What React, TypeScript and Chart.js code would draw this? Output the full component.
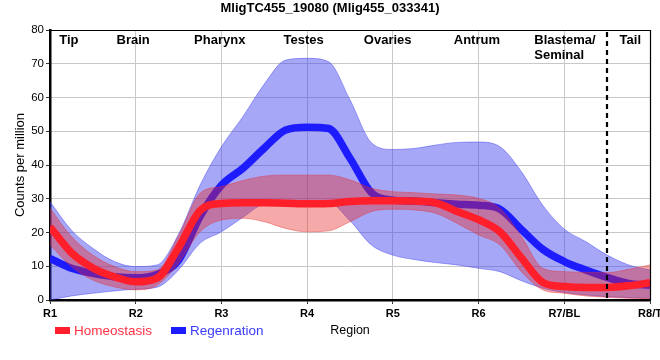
import React, { useEffect, useRef } from "react";
import { Chart, registerables } from "chart.js";
Chart.register(...registerables);

const chartTitle = "MligTC455_19080 (Mlig455_033341)";
const tickLabels = ["R1", "R2", "R3", "R4", "R5", "R6", "R7/BL", "R8/T"];
const regionNames = ["Tip", "Brain", "Pharynx", "Testes", "Ovaries", "Antrum", "Blastema/\nSeminal", "Tail"];
const regionAt = [1.22, 1.97, 2.98, 3.96, 4.94, 5.98, 6.65, 7.77];
const boundaryAt = 7.5;

const positions = [1, 1.25, 1.5, 1.75, 2, 2.25, 2.5, 2.75, 3, 3.25, 3.5, 3.75, 4, 4.25, 4.5, 4.75, 5, 5.25, 5.5, 5.75, 6, 6.25, 6.5, 6.75, 7, 7.25, 7.5, 7.75, 8];

const homeMean = [21.7, 14, 9.5, 6.9, 5.4, 6.5, 15.5, 26.5, 28.6, 28.8, 28.8, 28.7, 28.5, 28.6, 29.2, 29.4, 29.4, 29.3, 28.8, 26.2, 23.8, 20.2, 12.5, 5.2, 4, 3.7, 3.7, 4.2, 5.1];
const homeUpper = [27.2, 18.8, 13.3, 9.9, 8.4, 8.9, 19, 31.6, 33.6, 35.4, 36.7, 37, 37, 37, 35.6, 33.1, 32.1, 31.8, 31.4, 31.1, 30.1, 27.2, 18.8, 9.4, 8.4, 8.2, 8.1, 9.1, 10.4];
const homeLower = [16.3, 9.9, 5.9, 3.9, 3, 4.4, 10.9, 20.2, 23.7, 24.2, 23.2, 21.2, 20.2, 20.5, 23.2, 26.2, 26.9, 26.7, 25.7, 22.7, 19.3, 16.3, 8.4, 3, 2, 1.2, 0.8, 0.5, 0.4];

const regenMean = [12.3, 9.4, 7.9, 6.9, 6.6, 7.6, 11.8, 24.7, 34, 39, 45, 50.4, 51.2, 50.8, 42, 31.8, 29.6, 29.3, 28.8, 28.4, 28.1, 26.9, 20.9, 15, 11.4, 8.9, 6.7, 4.9, 4.4];
const regenUpper = [29.1, 20.7, 15.3, 11.4, 9.9, 10.4, 19.5, 34, 45.4, 54.3, 64, 71.1, 71.6, 70.6, 59.3, 46.6, 44.6, 44.9, 45.9, 46.7, 46.8, 45.4, 38, 28, 21, 17.3, 13.3, 10.4, 8.9];
const regenLower = [0, 1.2, 2, 2.7, 3.2, 3.8, 8.9, 16.8, 20.2, 24.5, 28.5, 29, 29.2, 29, 23.5, 16.3, 13.3, 12, 11.1, 10.4, 9.4, 8.4, 5.7, 3.5, 2.2, 1.5, 1, 0.7, 0.5];

const seriesNames = ["Homeostasis", "Regenration"];

const RED = "#ff1f2b";
const BLUE = "#1c1cff";
const FONT = '"Liberation Sans", Arial, sans-serif';

const pts = (vals: number[]) => vals.map((v, i) => ({ x: positions[i], y: v }));

export default function App() {
  const ref = useRef<HTMLCanvasElement | null>(null);
  useEffect(() => {
    document.body.style.margin = "0";
    const canvas = ref.current!;
    const overlay = {
      id: "overlay",
      afterDatasetsDraw(chart: any) {
        const { ctx, chartArea: a, scales } = chart;
        const x = scales.x;
        ctx.save();
        ctx.strokeStyle = "#000";
        ctx.lineWidth = 1.2;
        ctx.beginPath();
        ctx.moveTo(a.left, a.top + 0.5);
        ctx.lineTo(a.right + 0.5, a.top + 0.5);
        ctx.lineTo(a.right + 0.5, a.bottom);
        ctx.stroke();
        const bx = Math.round(x.getPixelForValue(boundaryAt));
        ctx.setLineDash([5, 4]);
        ctx.lineWidth = 2.2;
        ctx.beginPath();
        ctx.moveTo(bx, a.top + 2);
        ctx.lineTo(bx, a.bottom);
        ctx.stroke();
        ctx.setLineDash([]);
        ctx.font = `bold 13px ${FONT}`;
        ctx.fillStyle = "#000";
        ctx.textBaseline = "alphabetic";
        regionNames.forEach((n, i) => {
          const px = x.getPixelForValue(regionAt[i]);
          const lines = n.split("\n");
          ctx.textAlign = lines.length > 1 ? "left" : "center";
          lines.forEach((l, j) => ctx.fillText(l, px, a.top + 14 + j * 14.5));
        });
        ctx.restore();
      },
      afterDraw(chart: any) {
        const { ctx } = chart;
        ctx.save();
        ctx.font = `bold 13px ${FONT}`;
        ctx.fillStyle = "#000";
        ctx.textAlign = "center";
        ctx.textBaseline = "middle";
        ctx.fillText(chartTitle, 330, 8);
        const items = [
          { name: seriesNames[0], box: RED, text: "#ff3344", x: 55 },
          { name: seriesNames[1], box: BLUE, text: "#3a3aff", x: 171 },
        ];
        ctx.font = `13.5px ${FONT}`;
        ctx.textAlign = "left";
        items.forEach((it) => {
          ctx.fillStyle = it.box;
          ctx.fillRect(it.x, 327, 15, 7);
          ctx.fillStyle = it.text;
          ctx.fillText(it.name, it.x + 19, 331);
        });
        ctx.restore();
      },
    };

    const band = (label: string, vals: number[], color: string, fill: any, order: number) => ({
      label,
      data: pts(vals),
      borderColor: color,
      borderWidth: 1,
      backgroundColor: color,
      fill,
      pointRadius: 0,
      cubicInterpolationMode: "monotone",
      order,
    });

    const chart = new Chart(canvas, {
      type: "line",
      data: {
        datasets: [
          band("regenUpper", regenUpper, "rgba(60,60,240,0.45)", "+1", 3),
          band("regenLower", regenLower, "rgba(60,60,240,0.45)", false, 3),
          {
            label: seriesNames[1],
            data: pts(regenMean),
            borderColor: BLUE,
            borderWidth: 7.5,
            fill: false,
            pointRadius: 0,
            cubicInterpolationMode: "monotone",
            order: 2,
          },
          band("homeUpper", homeUpper, "rgba(230,40,40,0.4)", "+1", 1),
          band("homeLower", homeLower, "rgba(230,40,40,0.4)", false, 1),
          {
            label: seriesNames[0],
            data: pts(homeMean),
            borderColor: RED,
            borderWidth: 7.5,
            fill: false,
            pointRadius: 0,
            cubicInterpolationMode: "monotone",
            order: 0,
          },
        ],
      },
      options: {
        responsive: false,
        animation: false,
        layout: { padding: { left: 0, right: 10, top: 30, bottom: 0 } },
        plugins: { legend: { display: false }, title: { display: false }, tooltip: { enabled: false } },
        scales: {
          x: {
            type: "linear",
            min: 1,
            max: 8,
            afterBuildTicks: (s: any) => {
              s.ticks = tickLabels.map((_, i) => ({ value: i + 1 }));
            },
            afterFit: (s: any) => {
              s.height = 60;
              s.paddingLeft = 0;
              s.paddingRight = 0;
            },
            ticks: {
              autoSkip: false,
              maxRotation: 0,
              padding: 3,
              color: "#000",
              font: { family: FONT, size: 11, weight: "bold" },
              callback: (v: any) => tickLabels[Math.round(v) - 1] ?? "",
            },
            grid: { color: "#c8c8c8", tickLength: 4, tickColor: "#333" },
            border: { color: "#000", width: 2.5 },
            title: {
              display: true,
              text: "Region",
              color: "#000",
              font: { family: FONT, size: 12.5 },
              padding: { top: 4, bottom: 22 },
            },
          },
          y: {
            min: 0,
            max: 80,
            afterFit: (s: any) => {
              s.width = 50;
            },
            ticks: { stepSize: 10, padding: 2, color: "#000", font: { family: FONT, size: 11.5 } },
            grid: { color: "#c8c8c8", tickLength: 4, tickColor: "#333" },
            border: { color: "#000", width: 2.5 },
            title: {
              display: true,
              text: "Counts per million",
              color: "#000",
              font: { family: FONT, size: 13 },
              padding: { top: 13, bottom: 0 },
            },
          },
        },
      },
      plugins: [overlay],
    } as any);
    return () => chart.destroy();
  }, []);
  return (
    <div style={{ width: 660, height: 360 }}>
      <canvas ref={ref} width={660} height={360} style={{ display: "block" }} />
    </div>
  );
}
